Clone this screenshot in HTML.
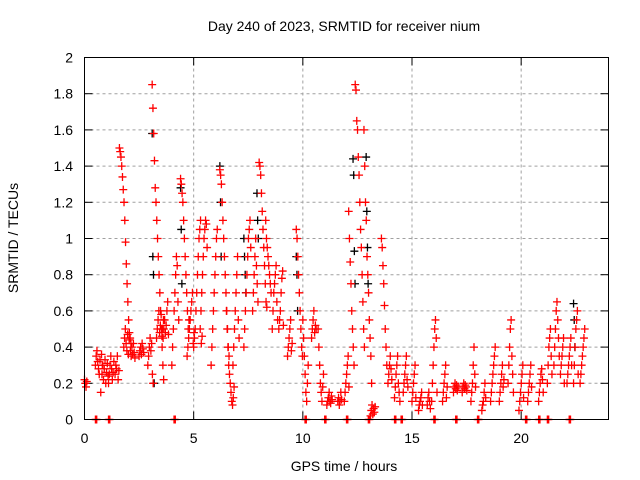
<!DOCTYPE html>
<html><head><meta charset="utf-8"><style>
body{margin:0;background:#fff;}
svg{display:block;font-family:"Liberation Sans",sans-serif;}
</style></head><body>
<svg id="chart" width="640" height="480" xmlns="http://www.w3.org/2000/svg">
<rect width="640" height="480" fill="#fff"/>
<text x="344" y="31" text-anchor="middle" font-size="14">Day 240 of 2023, SRMTID for receiver nium</text>
<text transform="translate(18,238) rotate(-90)" text-anchor="middle" font-size="14">SRMTID / TECUs</text>
<text x="344" y="471" text-anchor="middle" font-size="14">GPS time / hours</text>
<g id="grid"></g>
<g id="ticks"></g>
<g id="black"></g>
<g id="red"></g>
<rect x="84.5" y="57.5" width="524" height="362" fill="none" stroke="#000" stroke-width="1"/>
</svg>
<script>
const xTicks=[0,5,10,15,20];
const yTicks=[0,0.2,0.4,0.6,0.8,1,1.2,1.4,1.6,1.8,2];
const yTickLabels=["0","0.2","0.4","0.6","0.8","1","1.2","1.4","1.6","1.8","2"];
const redT=[0.0,0.5,0.8,1.1,1.4,1.6,1.8,2.1,2.5,2.9,3.1,3.3,3.6,4.0,4.4,4.7,5.0,5.3,5.8,6.2,6.5,6.8,7.3,7.7,8.0,8.3,8.6,8.9,9.3,9.7,10.0,10.4,10.7,11.1,11.6,11.9,12.1,12.4,12.8,13.1,13.6,13.9,14.2,14.6,15.0,15.3,15.7,15.9,16.4,16.9,17.3,17.7,18.2,18.6,19.0,19.4,19.9,20.3,20.8,21.2,21.5,21.8,22.1,22.4,22.7];
const redV=[
[0.22,0.2,0.18,0.21],
[0.3,0.35,0.38,0.32,0.28,0.25,0.33,0.15,0.36,0.3],
[0.25,0.3,0.22,0.28,0.33,0.2,0.26,0.31,0.24],
[0.2,0.25,0.3,0.35,0.28,0.22,0.26,0.32],
[0.25,0.3,0.28,0.35,0.22,0.27],
[1.5,1.48,1.45,1.4,1.34,1.27,1.2,1.1,0.98,0.86,0.75,0.65,0.55,0.48,0.45,0.42],
[0.4,0.45,0.5,0.42,0.38,0.47,0.36,0.44],
[0.38,0.35,0.4,0.36,0.42,0.37,0.34],
[0.35,0.38,0.4,0.36,0.42,0.39,0.37],
[0.3,0.35,0.4,0.45,0.38,0.42,0.25,0.2],
[1.85,1.72,1.58,1.43,1.28,1.2,1.1,1.0,0.9,0.8,0.7,0.6,0.5,0.4,0.3,0.22],
[0.45,0.5,0.55,0.6,0.48,0.52,0.58,0.46,0.5,0.55],
[0.45,0.5,0.55,0.48,0.52,0.6,0.65,0.47],
[0.3,0.4,0.5,0.6,0.7,0.8,0.9,0.85,0.65,0.55],
[1.33,1.3,1.25,1.2,1.1,1.0,0.9,0.8,0.7,0.6,0.5,0.55],
[0.35,0.4,0.45,0.5,0.55,0.6,0.65,0.7,0.42,0.48],
[0.4,0.45,0.5,0.6,0.7,0.8,0.9,1.0,1.05,1.1,0.42,0.46],
[0.5,0.6,0.7,0.8,0.9,1.0,1.05,1.1,1.08,0.95],
[0.3,0.4,0.5,0.6,0.7,0.8,0.9,1.0,1.05],
[1.38,1.35,1.3,1.2,1.1,1.0,0.9,0.8,0.7,0.6,0.5,0.4,0.35],
[0.6,0.5,0.4,0.3,0.25,0.2,0.15,0.1,0.08,0.12,0.18],
[0.3,0.4,0.5,0.6,0.7,0.8,0.9,0.55,0.45],
[0.4,0.5,0.6,0.7,0.8,0.9,1.0,1.05,1.1,0.95],
[0.6,0.7,0.8,0.9,1.0,0.85,0.75,0.65],
[1.42,1.4,1.35,1.25,1.15,1.05,0.95,0.85,0.75,0.65,0.62],
[1.1,1.0,0.95,0.9,0.85,0.8,0.75,0.7],
[0.5,0.6,0.7,0.75,0.8,0.85,0.65,0.55],
[0.5,0.55,0.6,0.7,0.78,0.82,0.52],
[0.35,0.4,0.45,0.5,0.55,0.38,0.42],
[1.05,1.0,0.9,0.8,0.7,0.6,0.5,0.4,0.35],
[0.55,0.45,0.35,0.25,0.15,0.1,0.2,0.3],
[0.45,0.5,0.55,0.6,0.48,0.52,0.5],
[0.5,0.4,0.3,0.2,0.15,0.1,0.18,0.25],
[0.08,0.1,0.12,0.15,0.1,0.09,0.13,0.11],
[0.1,0.12,0.08,0.1,0.15,0.11],
[0.1,0.15,0.2,0.25,0.3,0.35,0.18],
[1.15,1.0,0.87,0.75,0.6,0.5,0.4,0.3],
[1.85,1.82,1.65,1.6,1.45,1.35,1.2,1.05,0.95,0.8,0.65,0.5,0.4],
[1.6,1.4,1.2,1.1,0.9,0.8,0.7,0.55,0.45,0.35,0.2],
[0.02,0.05,0.08,0.03,0.06,0.04,0.07],
[1.0,0.95,0.85,0.75,0.63,0.5,0.4,0.3],
[0.2,0.25,0.3,0.35,0.28,0.22],
[0.12,0.18,0.25,0.3,0.35,0.2,0.15,0.1],
[0.15,0.2,0.25,0.3,0.35,0.22,0.18],
[0.1,0.15,0.2,0.25,0.3,0.12],
[0.05,0.08,0.1,0.12,0.15,0.08],
[0.08,0.12,0.15,0.1,0.06],
[0.1,0.2,0.3,0.4,0.5,0.55,0.45,0.15],
[0.1,0.15,0.2,0.25,0.3,0.12,0.18],
[0.15,0.18,0.2,0.17,0.19,0.16,0.18],
[0.15,0.18,0.2,0.17,0.19,0.18,0.16],
[0.1,0.15,0.2,0.3,0.4,0.25,0.18],
[0.05,0.08,0.1,0.15,0.2,0.12],
[0.1,0.15,0.2,0.25,0.3,0.35,0.4],
[0.1,0.15,0.2,0.25,0.3,0.18,0.22],
[0.2,0.3,0.4,0.5,0.55,0.35,0.25,0.15],
[0.05,0.1,0.15,0.2,0.25,0.3,0.12],
[0.1,0.15,0.2,0.25,0.3,0.18],
[0.1,0.15,0.2,0.25,0.28,0.22,0.15],
[0.2,0.3,0.4,0.45,0.5,0.35,0.25],
[0.3,0.4,0.5,0.6,0.65,0.55,0.45,0.35],
[0.25,0.3,0.35,0.4,0.45,0.2],
[0.2,0.25,0.3,0.35,0.4,0.45,0.3],
[0.2,0.3,0.4,0.5,0.55,0.6,0.25],
[0.2,0.25,0.3,0.35,0.4,0.45,0.5]];
const redZeroT=[0.5,1.1,4.1,10.1,11.0,12.0,13.0,14.2,14.5,16.0,17.0,18.0,20.2,20.8,21.2,22.2];
const blackT=[3.1,4.4,6.2,7.3,7.9,9.7,12.3,12.9,22.4];
const blackV=[[1.58,0.9,0.8,0.2],[1.28,1.05,0.75],[1.4,1.2,0.9],[1.0,0.9,0.8,0.7],[1.25,1.1,1.0],[0.9,0.8,0.6],[1.44,1.35,0.93,0.75],[1.45,1.15,0.95,0.75],[0.64,0.55,0.4]];

const X0=84.5,X1=608.5,Y0=419.5,Y1=57.5;
const sx=t=>X0+(X1-X0)*t/24;
const sy=v=>Y0-(Y0-Y1)*v/2;
const NS="http://www.w3.org/2000/svg";
function mk(tag,parent,attrs){const e=document.createElementNS(NS,tag);for(const k in attrs)e.setAttribute(k,attrs[k]);parent.appendChild(e);return e;}
const grid=document.getElementById('grid'),ticks=document.getElementById('ticks');
yTicks.forEach((v,i)=>{
  const y=sy(v);
  if(i>0&&i<yTicks.length-1){const g=mk('line',grid,{x1:X0,x2:X1,y1:y,y2:y,stroke:'#a0a0a0','stroke-dasharray':'3,3'});
  
  }
  mk('line',ticks,{x1:X0,x2:X0+8,y1:y,y2:y,stroke:'#000'});
  mk('line',ticks,{x1:X1-8,x2:X1,y1:y,y2:y,stroke:'#000'});
  const t=mk('text',ticks,{x:73,y:y+5,'text-anchor':'end','font-size':'14'});t.textContent=yTickLabels[i];
  
  
});
xTicks.forEach(v=>{
  const x=sx(v);
  if(v>0){const g=mk('line',grid,{x1:x,x2:x,y1:Y0,y2:Y1,stroke:'#a0a0a0','stroke-dasharray':'3,3'});
  
  }
  mk('line',ticks,{x1:x,x2:x,y1:Y0,y2:Y0-8,stroke:'#000'});
  mk('line',ticks,{x1:x,x2:x,y1:Y1,y2:Y1+8,stroke:'#000'});
  const t=mk('text',ticks,{x:x,y:443,'text-anchor':'middle','font-size':'14'});t.textContent=String(v);
  
  
});
function plus(g,t,v,col){
  const x=sx(t),y=sy(v);
  const p=mk('path',g,{d:`M${x-4},${y}h8M${x},${y-4}v8`,stroke:col,'stroke-width':'1.3',fill:'none'});
  
  
}
const bg=document.getElementById('black'),rg=document.getElementById('red');
blackT.forEach((t,i)=>blackV[i].forEach((v,j)=>plus(bg,t+j*0.03,v,'#000')));
redT.forEach((t,i)=>redV[i].forEach((v,j)=>plus(rg,t+j*0.035,v,'#ff0000')));
redZeroT.forEach(t=>{for(let j=0;j<3;j++)plus(rg,t+j*0.03,0,'#ff0000');});
</script>
</body></html>
